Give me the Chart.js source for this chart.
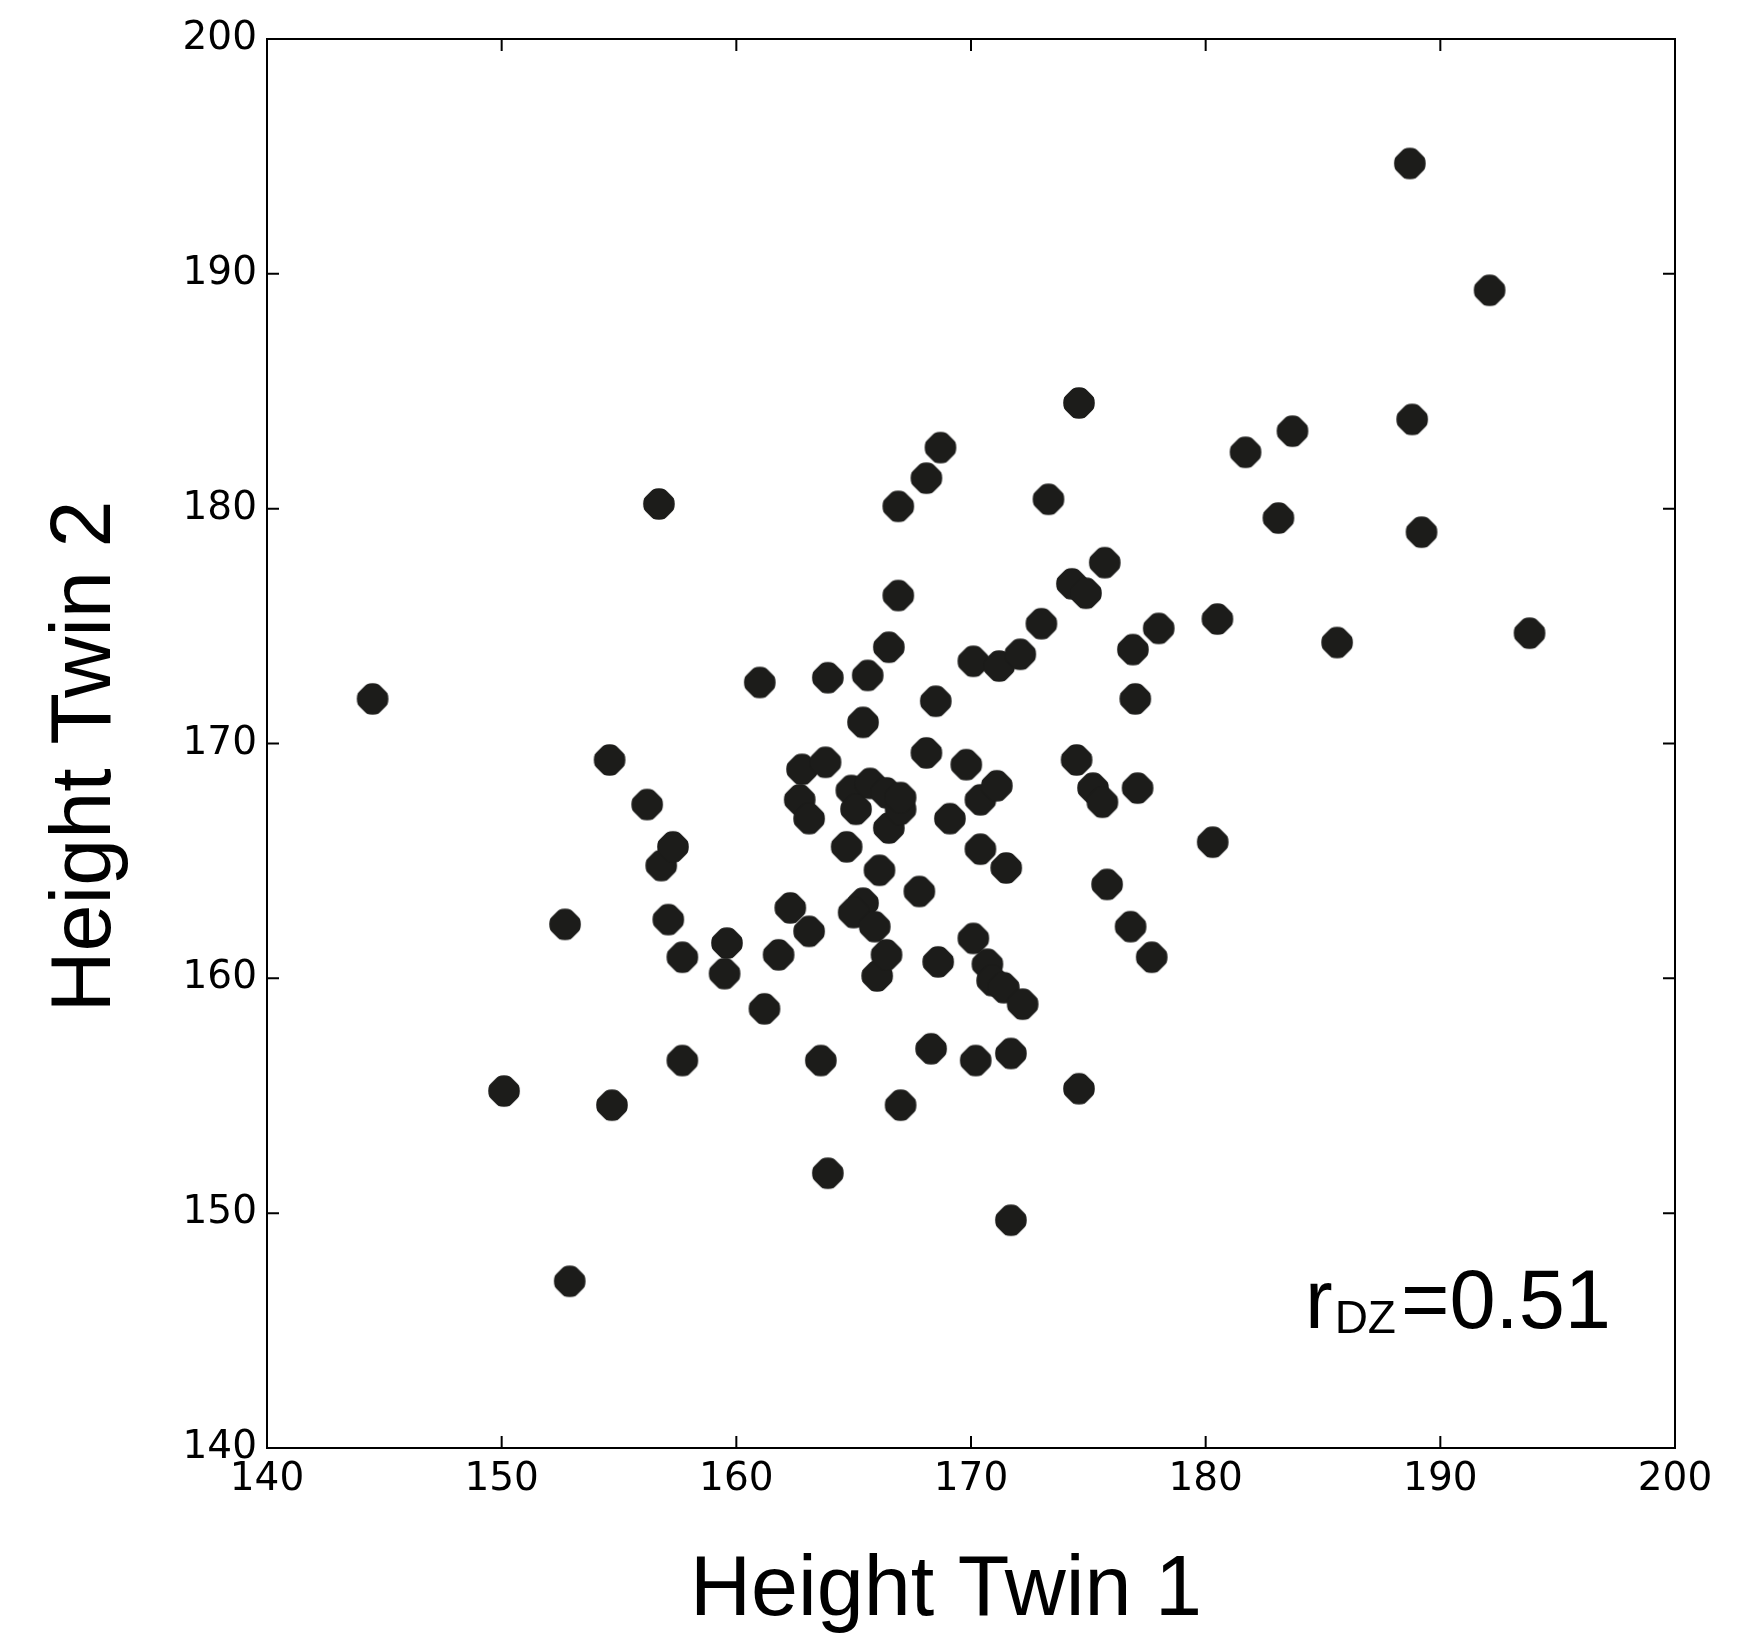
<!DOCTYPE html>
<html>
<head>
<meta charset="utf-8">
<title>Height Twin 1 vs Height Twin 2</title>
<script src="https://cdn.jsdelivr.net/npm/chart.js@4.4.1/dist/chart.umd.min.js"></script>
<style>
  html, body { margin: 0; padding: 0; background: #fff; }
  #wrap { width: 1742px; height: 1635px; }
</style>
</head>
<body>
<div id="wrap"><canvas id="twinChart" width="1742" height="1635"></canvas></div>
<script>
// DZ twin pairs, height in cm
const heightTwin1 = [
    144.5, 156.7, 152.7, 150.1, 152.9, 154.6, 154.7, 156.2, 156.8, 157.3,
    157.1, 157.7, 157.7, 159.6, 159.5, 161.0, 161.2, 161.8, 162.3, 162.8,
    162.7, 163.1, 163.1, 163.6, 163.9, 163.9, 163.8, 164.7, 164.9, 165.1,
    165.4, 165.6, 165.4, 165.0, 165.7, 165.9, 166.1, 166.0, 166.4, 166.4,
    166.5, 166.5, 167.0, 166.9, 166.9, 167.0, 167.0, 167.8, 168.1, 168.1,
    168.5, 168.7, 168.6, 168.3, 169.1, 169.8, 170.1, 170.1, 170.2, 170.4,
    170.4, 170.7, 170.9, 171.1, 171.2, 171.4, 171.5, 171.7, 171.7, 172.2,
    172.1, 173.0, 173.3, 174.3, 174.6, 174.5, 174.6, 174.9, 175.2, 175.6,
    175.7, 175.8, 176.9, 177.0, 177.1, 176.8, 177.7, 178.0, 180.3, 180.5,
    181.7, 183.1, 183.7, 185.6, 188.7, 188.8, 189.2, 192.1, 193.8
];
const heightTwin2 = [
    171.9, 180.2, 162.3, 155.2, 147.1, 169.3, 154.6, 167.4, 164.8, 165.6,
    162.5, 160.9, 156.5, 161.5, 160.2, 172.6, 158.7, 161.0, 163.0, 168.9,
    167.6, 166.8, 162.0, 156.5, 151.7, 172.8, 169.2, 165.6, 168.0, 167.2,
    170.9, 172.9, 163.2, 162.8, 168.3, 162.2, 164.6, 160.1, 161.0, 167.9,
    174.1, 166.4, 167.2, 180.1, 176.3, 154.6, 167.7, 163.7, 169.6, 181.3,
    171.8, 182.6, 160.7, 157.0, 166.8, 169.1, 173.5, 161.7, 156.5, 167.6,
    165.5, 160.6, 159.9, 168.2, 173.3, 159.6, 164.7, 149.7, 156.8, 158.9,
    173.8, 175.1, 180.4, 176.8, 184.5, 169.3, 155.3, 176.4, 168.1, 167.5,
    177.7, 164.0, 174.0, 171.9, 168.1, 162.2, 160.9, 174.9, 165.8, 175.3,
    182.4, 179.6, 183.3, 174.3, 194.7, 183.8, 179.0, 189.3, 174.7
];
const tickValues = [140, 150, 160, 170, 180, 190, 200];
const xTitle = 'Height Twin 1';
const yTitle = 'Height Twin 2';
const corrText = ['r', 'DZ', '=0.51'];   // r with DZ subscript

const points = heightTwin1.map((v, i) => ({ x: v, y: heightTwin2[i] }));

// round marker with slightly flattened diagonals, like the original
function makeMarker(r, color) {
    const c = document.createElement('canvas');
    const s = Math.ceil(r * 2) + 2;
    c.width = s;
    c.height = s;
    const g = c.getContext('2d');
    const m = s / 2;
    g.beginPath();
    g.arc(m, m, r, 0, Math.PI * 2);
    g.clip();
    const d = r * 0.93 * Math.SQRT2;
    g.beginPath();
    g.moveTo(m, m - d);
    g.lineTo(m + d, m);
    g.lineTo(m, m + d);
    g.lineTo(m - d, m);
    g.closePath();
    g.fillStyle = color;
    g.fill();
    return c;
}

// box around the plot + inward ticks on all four sides
const framePlugin = {
    id: 'frame',
    afterDatasetsDraw(chart) {
        const { ctx, chartArea: a, scales: { x, y } } = chart;
        const len = 12;
        ctx.save();
        ctx.strokeStyle = '#000';
        ctx.lineWidth = 2;
        ctx.strokeRect(a.left, a.top, a.right - a.left, a.bottom - a.top);
        ctx.beginPath();
        x.ticks.forEach(t => {
            const px = x.getPixelForValue(t.value);
            ctx.moveTo(px, a.bottom); ctx.lineTo(px, a.bottom - len);
            ctx.moveTo(px, a.top); ctx.lineTo(px, a.top + len);
        });
        y.ticks.forEach(t => {
            const py = y.getPixelForValue(t.value);
            ctx.moveTo(a.left, py); ctx.lineTo(a.left + len, py);
            ctx.moveTo(a.right, py); ctx.lineTo(a.right - len, py);
        });
        ctx.stroke();
        ctx.restore();
    }
};

// axis titles and the correlation note
const textPlugin = {
    id: 'texts',
    afterDraw(chart) {
        const { ctx, chartArea: a } = chart;
        const family = '"Liberation Sans", Arial, Helvetica, sans-serif';
        ctx.save();
        ctx.fillStyle = '#000';
        ctx.textBaseline = 'alphabetic';

        ctx.font = '84.5px ' + family;
        ctx.textAlign = 'center';
        ctx.fillText(xTitle, (a.left + a.right) / 2 - 25, a.bottom + 167);

        ctx.save();
        ctx.translate(110, (a.top + a.bottom) / 2 + 13);
        ctx.rotate(-Math.PI / 2);
        ctx.fillText(yTitle, 0, 0);
        ctx.restore();

        ctx.textAlign = 'left';
        let tx = a.right - 370;
        const by = a.bottom - 120;
        ctx.font = '83px ' + family;
        ctx.fillText(corrText[0], tx, by);
        tx += ctx.measureText(corrText[0]).width + 2;
        ctx.font = '46px ' + family;
        ctx.fillText(corrText[1], tx, by + 5);
        tx += ctx.measureText(corrText[1]).width + 5;
        ctx.font = '83px ' + family;
        ctx.fillText(corrText[2], tx, by);
        ctx.restore();
    }
};

const tickFont = { family: '"DejaVu Sans", sans-serif', size: 39 };

const ctx = document.getElementById('twinChart').getContext('2d');
const twinChart = new Chart(ctx, {
    type: 'scatter',
    data: {
        datasets: [{
            label: 'DZ twins',
            data: points,
            pointStyle: makeMarker(15.8, '#1c1c1a'),
            pointRadius: 16,
            pointHoverRadius: 16
        }]
    },
    options: {
        responsive: false,
        animation: false,
        devicePixelRatio: 1,
        layout: { padding: { top: 39, right: 67, bottom: 0, left: 0 } },
        plugins: {
            legend: { display: false },
            tooltip: { enabled: false }
        },
        scales: {
            x: {
                type: 'linear',
                min: tickValues[0],
                max: tickValues[tickValues.length - 1],
                afterBuildTicks: s => { s.ticks = tickValues.map(v => ({ value: v })); },
                afterFit: s => { s.height = 187; },
                grid: { display: false, drawTicks: false },
                border: { display: false },
                ticks: {
                    autoSkip: false,
                    maxRotation: 0,
                    padding: 8,
                    color: '#000',
                    font: tickFont
                }
            },
            y: {
                type: 'linear',
                min: tickValues[0],
                max: tickValues[tickValues.length - 1],
                afterBuildTicks: s => { s.ticks = tickValues.map(v => ({ value: v })); },
                afterFit: s => { s.width = 267; },
                grid: { display: false, drawTicks: false },
                border: { display: false },
                ticks: {
                    autoSkip: false,
                    padding: 10,
                    color: '#000',
                    font: tickFont
                }
            }
        }
    },
    plugins: [framePlugin, textPlugin]
});
</script>
</body>
</html>
